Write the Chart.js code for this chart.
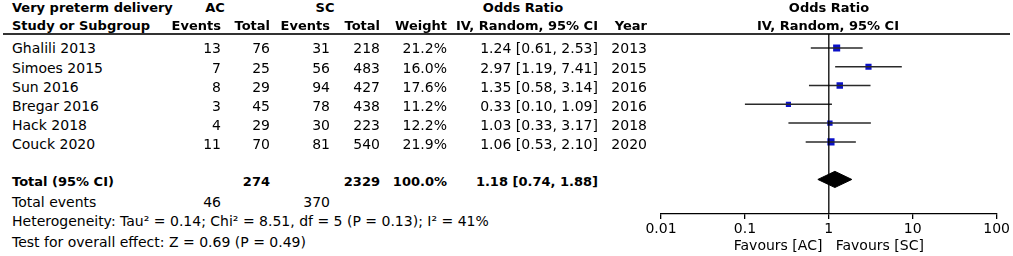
<!DOCTYPE html>
<html>
<head>
<meta charset="utf-8">
<script src="https://cdn.jsdelivr.net/npm/chart.js@4.4.1/dist/chart.umd.min.js"></script>
<style>
  html, body { margin: 0; padding: 0; background: #fff; }
  #page { position: relative; width: 1013px; height: 256px; overflow: hidden;
          font-family: 'DejaVu Sans', sans-serif; font-size: 14px; color: #000; }
  .t { position: absolute; white-space: pre; line-height: 16px; }
  .b { font-weight: bold; font-size: 13px; }
  #rule { position: absolute; left: 3px; top: 33px; width: 1007px; height: 1.5px; background: #333; }
  #plotBox { position: absolute; left: 640px; top: 0; width: 373px; height: 256px; }
</style>
</head>
<body>
<div id="page">
  <div id="rule"></div>
  <div id="plotBox"><canvas id="forest"></canvas></div>
</div>
<script>
// study data
const studies = ['Ghalili 2013', 'Simoes 2015', 'Sun 2016', 'Bregar 2016', 'Hack 2018', 'Couck 2020'];
const acEvents = [13, 7, 8, 3, 4, 11];
const acTotal = [76, 25, 29, 45, 29, 70];
const scEvents = [31, 56, 94, 78, 30, 81];
const scTotal = [218, 483, 427, 438, 223, 540];
const weights = [21.2, 16.0, 17.6, 11.2, 12.2, 21.9];
const oddsRatios = [1.24, 2.97, 1.35, 0.33, 1.03, 1.06];
const ciLow = [0.61, 1.19, 0.58, 0.10, 0.33, 0.53];
const ciHigh = [2.53, 7.41, 3.14, 1.09, 3.17, 2.10];
const years = [2013, 2015, 2016, 2016, 2018, 2020];

// pooled estimate
const pooledOR = 1.18;
const pooledLow = 0.74;
const pooledHigh = 1.88;
const pooledWeight = 100.0;

// axis
const tickValues = [0.01, 0.1, 1, 10, 100];
const tickLabels = ['0.01', '0.1', '1', '10', '100'];

const heterogeneityText = 'Heterogeneity: Tau\u00B2 = 0.14; Chi\u00B2 = 8.51, df = 5 (P = 0.13); I\u00B2 = 41%';
const overallText = 'Test for overall effect: Z = 0.69 (P = 0.49)';

// layout helpers
const PAGE_W = 1013;
const rowY = i => 48.3 + 19.2 * i;
const TOTAL_ROW = 7;
const sum = arr => arr.reduce((a, b) => a + b, 0);
const fmtCI = (or, lo, hi) => `${or.toFixed(2)} [${lo.toFixed(2)}, ${hi.toFixed(2)}]`;

const page = document.getElementById('page');

function addText(text, x, cy, align, bold) {
    const el = document.createElement('span');
    el.className = 't' + (bold ? ' b' : '');
    el.textContent = text;
    el.style.top = (cy - 8) + 'px';
    if (align === 'right') {
        el.style.right = (PAGE_W - x) + 'px';
    } else if (align === 'center') {
        el.style.left = x + 'px';
        el.style.transform = 'translateX(-50%)';
    } else {
        el.style.left = x + 'px';
    }
    page.appendChild(el);
}

// column anchors (right edges unless noted)
const col = { name: 12, acEv: 221, acTot: 270, scEv: 330, scTot: 380, weight: 447, ci: 598, year: 647 };

// header
addText('Very preterm delivery', 12, 8, 'left', true);
addText('AC', 215, 8, 'center', true);
addText('SC', 325, 8, 'center', true);
addText('Odds Ratio', 523, 8, 'center', true);
addText('Odds Ratio', 829, 8, 'center', true);
addText('Study or Subgroup', col.name, 26, 'left', true);
addText('Events', col.acEv, 26, 'right', true);
addText('Total', col.acTot, 26, 'right', true);
addText('Events', col.scEv, 26, 'right', true);
addText('Total', col.scTot, 26, 'right', true);
addText('Weight', col.weight, 26, 'right', true);
addText('IV, Random, 95% CI', col.ci, 26, 'right', true);
addText('Year', col.year, 26, 'right', true);
addText('IV, Random, 95% CI', 828, 26, 'center', true);

// study rows
studies.forEach((name, i) => {
    const y = rowY(i);
    addText(name, col.name, y, 'left');
    addText(String(acEvents[i]), col.acEv, y, 'right');
    addText(String(acTotal[i]), col.acTot, y, 'right');
    addText(String(scEvents[i]), col.scEv, y, 'right');
    addText(String(scTotal[i]), col.scTot, y, 'right');
    addText(weights[i].toFixed(1) + '%', col.weight, y, 'right');
    addText(fmtCI(oddsRatios[i], ciLow[i], ciHigh[i]), col.ci, y, 'right');
    addText(String(years[i]), col.year, y, 'right');
});

// totals
addText('Total (95% CI)', col.name, 182, 'left', true);
addText(String(sum(acTotal)), col.acTot, 182, 'right', true);
addText(String(sum(scTotal)), col.scTot, 182, 'right', true);
addText(pooledWeight.toFixed(1) + '%', col.weight, 182, 'right', true);
addText(fmtCI(pooledOR, pooledLow, pooledHigh), col.ci, 182, 'right', true);
addText('Total events', col.name, 202, 'left');
addText(String(sum(acEvents)), col.acEv, 202, 'right');
addText(String(sum(scEvents)), col.scEv, 202, 'right');
addText(heterogeneityText, col.name, 221, 'left');
addText(overallText, col.name, 242, 'left');

// forest plot datasets
const ciSets = studies.map((name, i) => ({
    label: name + ' CI',
    data: [{ x: ciLow[i], y: i }, { x: ciHigh[i], y: i }],
    showLine: true,
    borderColor: '#2a2a2a',
    borderWidth: 1.5,
    pointRadius: 0
}));

const squares = {
    label: 'Studies',
    data: oddsRatios.map((v, i) => ({ x: v, y: i })),
    pointStyle: 'rect',
    pointRadius: weights.map(w => 5 * Math.sqrt(w / 21.2)),
    backgroundColor: '#0a10c8',
    borderColor: '#0a10c8',
    borderWidth: 0
};

const diamond = {
    label: 'Total',
    data: [
        { x: pooledLow, y: TOTAL_ROW },
        { x: pooledOR, y: TOTAL_ROW - 0.43 },
        { x: pooledHigh, y: TOTAL_ROW },
        { x: pooledOR, y: TOTAL_ROW + 0.43 },
        { x: pooledLow, y: TOTAL_ROW }
    ],
    showLine: true,
    fill: 'shape',
    backgroundColor: '#000',
    borderColor: '#000',
    borderWidth: 1,
    pointRadius: 0
};

const Y_MIN = -0.745;
const Y_MAX = 8.84;

const nullLine = {
    label: 'No effect',
    data: [{ x: 1, y: Y_MIN }, { x: 1, y: Y_MAX }],
    showLine: true,
    borderColor: '#000',
    borderWidth: 1.3,
    pointRadius: 0
};

Chart.defaults.font.family = "'DejaVu Sans', sans-serif";
Chart.defaults.font.size = 14;
Chart.defaults.color = '#000';

new Chart(document.getElementById('forest'), {
    type: 'scatter',
    data: { datasets: [nullLine, ...ciSets, squares, diamond] },
    options: {
        responsive: true,
        maintainAspectRatio: false,
        animation: false,
        layout: { padding: { left: 21, right: 15, top: 34, bottom: 3 } },
        plugins: { legend: { display: false }, tooltip: { enabled: false } },
        scales: {
            x: {
                type: 'logarithmic',
                min: 0.01,
                max: 100,
                border: { display: true, color: '#000', width: 1.3 },
                grid: { drawOnChartArea: false, drawTicks: true, tickLength: 5, color: '#000', lineWidth: 1.3 },
                afterBuildTicks: axis => { axis.ticks = tickValues.map(v => ({ value: v })); },
                ticks: {
                    autoSkip: false,
                    maxRotation: 0,
                    padding: 3,
                    font: { size: 14, lineHeight: 1 },
                    callback: value => tickLabels[tickValues.indexOf(value)]
                },
                title: {
                    display: true,
                    text: 'Favours [AC]   Favours [SC]',
                    font: { size: 14, lineHeight: 1 },
                    padding: { top: 0, bottom: 0 }
                }
            },
            y: {
                type: 'linear',
                display: false,
                reverse: true,
                min: Y_MIN,
                max: Y_MAX
            }
        }
    }
});
</script>
</body>
</html>
